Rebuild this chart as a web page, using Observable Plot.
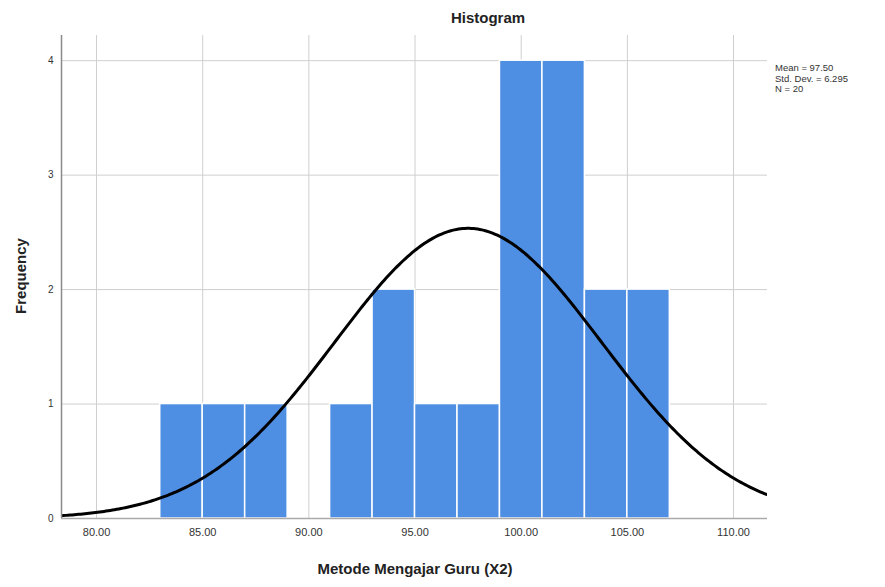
<!DOCTYPE html>
<html><head><meta charset="utf-8">
<script src="https://cdn.jsdelivr.net/npm/d3@7"></script>
<script src="https://cdn.jsdelivr.net/npm/@observablehq/plot@0.6"></script>
<style>body{margin:0;background:#fff;font-family:Arial,"Liberation Sans",sans-serif}</style>
</head><body><div id="chart"></div>
<script>
const binStarts = [83, 85, 87, 91, 93, 95, 97, 99, 101, 103, 105];
const binWidth = 2;
const frequencies = [1, 1, 1, 1, 2, 1, 1, 4, 4, 2, 2];
const mean = 97.5, stdDev = 6.295, n = 20;
const xTicks = [80, 85, 90, 95, 100, 105, 110];
const yTicks = [0, 1, 2, 3, 4];
const xDomain = [78.35, 111.6];

const bins = binStarts.map((s, i) => ({x1: s, x2: s + binWidth, y: frequencies[i]}));
const curve = d3.range(xDomain[0], xDomain[1] + 0.05, 0.1).map(x => ({
  x, y: n * binWidth * Math.exp(-0.5 * ((x - mean) / stdDev) ** 2) / (stdDev * Math.sqrt(2 * Math.PI))
}));

const chart = Plot.plot({
  width: 885, height: 587,
  marginLeft: 61, marginRight: 118, marginTop: 35, marginBottom: 69,
  style: {fontFamily: "Arial, 'Liberation Sans', sans-serif", background: "#fff"},
  x: {domain: xDomain, ticks: xTicks, tickFormat: d => d.toFixed(2), tickSize: 0, tickPadding: 10, label: null},
  y: {domain: [0, 4.22], ticks: yTicks, tickFormat: d => String(d), tickSize: 0, tickPadding: 8, label: null},
  marks: [
    Plot.gridX(xTicks, {stroke: "#cfcfcf", strokeOpacity: 1, strokeWidth: 1}),
    Plot.gridY(yTicks, {stroke: "#cfcfcf", strokeOpacity: 1, strokeWidth: 1}),
    Plot.rectY(bins, {x1: "x1", x2: "x2", y: "y", fill: "#4f8fe3", stroke: "#fff", strokeWidth: 1.5}),
    Plot.line(curve, {x: "x", y: "y", stroke: "#000", strokeWidth: 3, clip: true}),
    Plot.ruleX([xDomain[0]], {stroke: "#8a8a8a", strokeWidth: 1.5}),
    Plot.ruleY([0], {stroke: "#aaaaaa", strokeWidth: 1.5})
  ]
});
const svg = d3.select(chart);
svg.selectAll("[aria-label='x-axis tick label'] text").attr("font-size", 11).attr("fill", "#333");
svg.selectAll("[aria-label='y-axis tick label'] text").attr("font-size", 10).attr("fill", "#333");
svg.append("text").attr("x", 488).attr("y", 23).attr("text-anchor", "middle")
  .attr("font-size", 15).attr("font-weight", "bold").attr("fill", "#222").text("Histogram");
svg.append("text").attr("x", 415).attr("y", 574).attr("text-anchor", "middle")
  .attr("font-size", 15).attr("font-weight", "bold").attr("fill", "#222").text("Metode Mengajar Guru (X2)");
svg.append("text").attr("transform", "translate(26,276) rotate(-90)").attr("text-anchor", "middle")
  .attr("font-size", 15).attr("font-weight", "bold").attr("fill", "#222").text("Frequency");
const stats = [`Mean = ${mean.toFixed(2)}`, `Std. Dev. = ${stdDev.toFixed(3)}`, `N = ${n}`];
stats.forEach((t, i) => svg.append("text").attr("x", 775).attr("y", 71 + i * 10.5)
  .attr("text-anchor", "start").attr("font-size", 9.5).attr("fill", "#333").text(t));
document.getElementById("chart").append(chart);
</script></body></html>
